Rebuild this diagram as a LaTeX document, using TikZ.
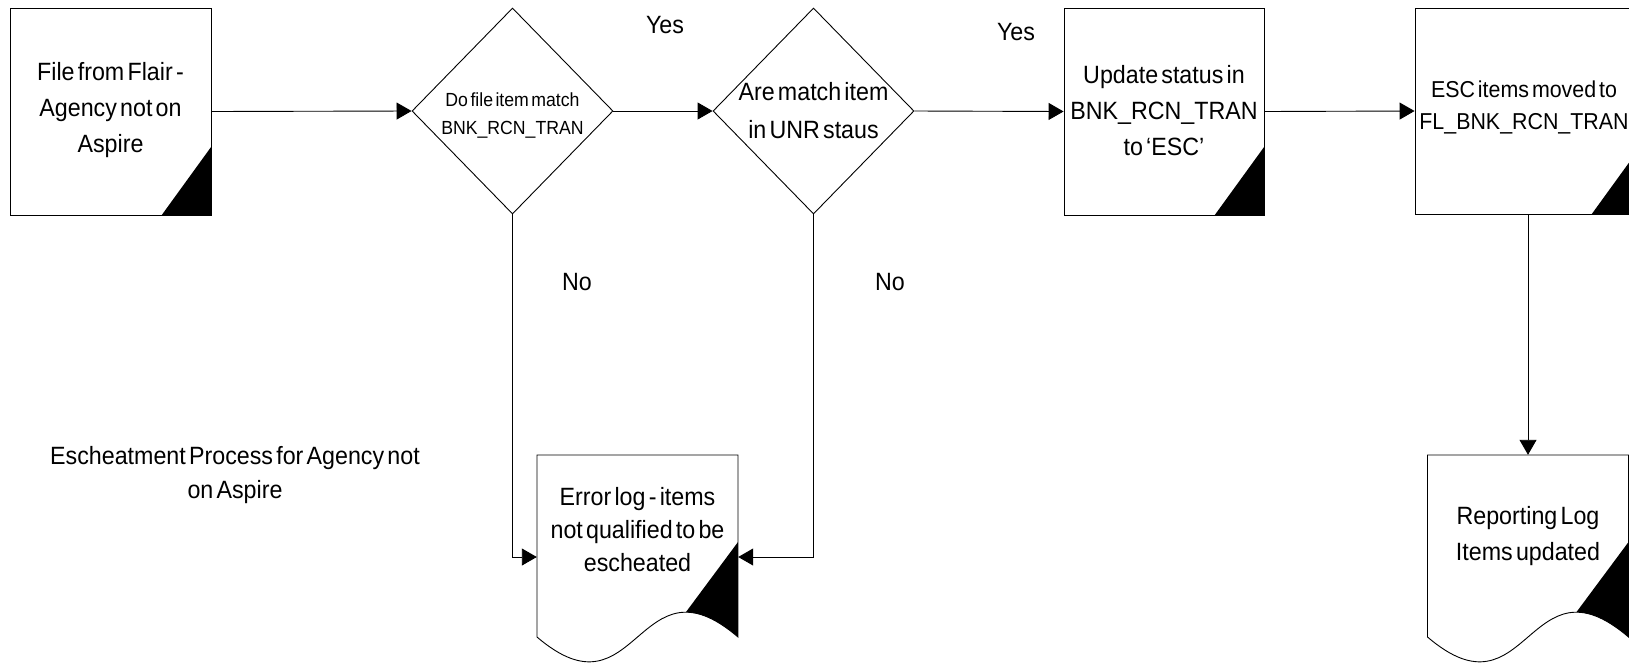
\documentclass[tikz,border=0pt]{standalone}
\usepackage{fontspec}
\setmainfont[FakeStretch=0.93,WordSpace=0.5]{Liberation Sans}
\usetikzlibrary{shapes.geometric,arrows.meta,calc}
\tikzset{
  outline/.style={draw=black, line width=0.9pt},
  procbox/.style={outline, rectangle, inner sep=0pt},
  decision/.style={outline, diamond, inner sep=0pt, minimum width=201pt, minimum height=206pt},
  ghost/.style={rectangle, inner sep=0pt, draw=none},
  lbl/.style={inner sep=0pt, align=center, font=\fontsize{25}{36}\selectfont},
  smalllbl/.style={inner sep=0pt, align=center, font=\fontsize{19}{28}\selectfont},
  flow/.style={line width=0.9pt, -{Triangle[length=15pt,width=17pt]}},
  corner/.style={fill=black},
}
\newcommand\mydocshape[1]{%
  \begin{scope}
    \clip (#1,455) -- (#1+201,455) -- (#1+201,637) .. controls (#1+100.5,551) and (#1+100.5,723) .. (#1,637) -- cycle;
    \fill[corner] (#1+149,612) -- (#1+201,542) -- (#1+201,700) -- (#1+149,700) -- cycle;
  \end{scope}
  \draw[outline] (#1,455) -- (#1+201,455) -- (#1+201,637) .. controls (#1+100.5,551) and (#1+100.5,723) .. (#1,637) -- cycle;
}
\begin{document}
\begin{tikzpicture}[x=1pt,y=-1pt]
\useasboundingbox (0,0) rectangle (1629,662);
\fill[white] (0,0) rectangle (1629,662);

% process boxes
\node[procbox, minimum width=201pt, minimum height=207pt] (box1) at (110.5,111.5) {};
\node[procbox, minimum width=200pt, minimum height=207pt] (box3) at (1164,111.5) {};
\node[procbox, minimum width=226pt, minimum height=206pt] (box4) at (1528,111) {};
\fill[corner] (box1.south east) -- ++(-50,0) -- ($(box1.south east)+(0,-69)$) -- cycle;
\fill[corner] (box3.south east) -- ++(-50,0) -- ($(box3.south east)+(0,-69)$) -- cycle;
\fill[corner] (box4.south east) -- ++(-50,0) -- ($(box4.south east)+(0,-69)$) -- cycle;

% decisions
\node[decision] (d1) at (512.5,111) {};
\node[decision] (d2) at (813.5,111) {};

% documents
\mydocshape{537}
\mydocshape{1427.5}
\node[ghost, minimum width=201pt, minimum height=204pt] (doc1) at (637.5,557) {};
\node[ghost, minimum width=201pt, minimum height=204pt] (doc2) at (1528,557) {};

% texts
\node[lbl] (t1) at (110.5,110) {File from Flair -\\Agency not on\\Aspire};
\node[smalllbl] (t2) at (512.5,115) {Do file item match\\BNK\_RCN\_TRAN};
\node[lbl, font=\fontsize{25}{38}\selectfont] (t3) at (813.5,111) {Are match item\\in UNR staus};
\node[lbl] (t4) at (1164,111) {Update status in\\BNK\_RCN\_TRAN\\to ‘ESC’};
\node[lbl, font=\fontsize{23}{32}\selectfont] (t5) at (1524,107) {ESC items moved to\\FL\_BNK\_RCN\_TRAN};
\node[lbl, font=\fontsize{25}{33}\selectfont] (t6) at (637.5,530) {Error log - items\\not qualified to be\\escheated};
\node[lbl, font=\fontsize{25}{36}\selectfont] (t7) at (1528,536) {Reporting Log\\Items updated};
\node[lbl, font=\fontsize{25}{34}\selectfont] (title) at (235,475) {Escheatment Process for Agency not\\on Aspire};
\node[lbl] (yes1) at (665,25) {Yes};
\node[lbl] (yes2) at (1016,32) {Yes};
\node[lbl] (no1) at (577,282) {No};
\node[lbl] (no2) at (890,282) {No};

% connectors
\draw[flow] (box1.east) -- (d1.west);
\draw[flow] (d1.east) -- (d2.west);
\draw[flow] (d2.east) -- (box3.west);
\draw[flow] (box3.east) -- (box4.west);
\draw[flow] (box4.south) -- (doc2.north);
\draw[flow] (d1.south) |- (doc1.west);
\draw[flow] (d2.south) |- (doc1.east);
\end{tikzpicture}
\end{document}
